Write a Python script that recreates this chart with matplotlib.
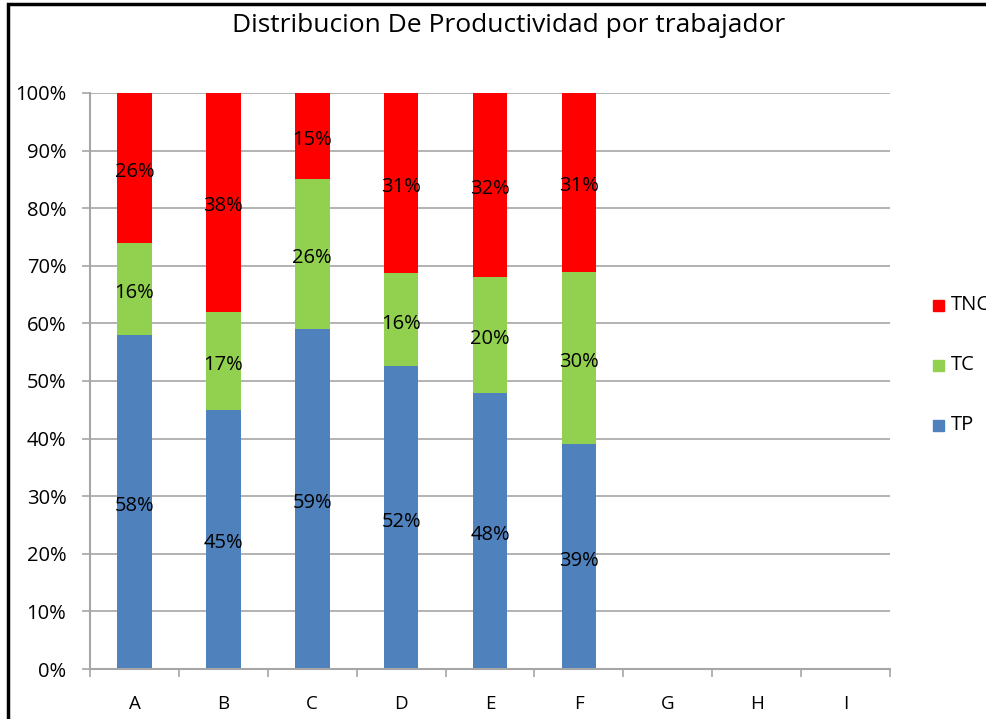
import matplotlib.pyplot as plt
import numpy as np
from matplotlib.patches import Rectangle
from matplotlib.transforms import offset_copy

categorias = ["A", "B", "C", "D", "E", "F", "G", "H", "I"]
tp = [58, 45, 59, 52, 48, 39]
tc = [16, 17, 26, 16, 20, 30]
tnc = [26, 38, 15, 31, 32, 31]
series = ["TP", "TC", "TNC"]
colores = ["#4F81BD", "#92D050", "#FF0000"]

plt.rcParams['font.family'] = ['Open Sans', 'DejaVu Sans']

fig = plt.figure(figsize=(9.87, 7.19), dpi=100)
ax = fig.add_axes([0.0912, 0.0695, 0.8105, 0.8012])

datos = np.array([tp, tc, tnc], dtype=float)
totales = datos.sum(axis=0)
frac = datos / totales
x = np.arange(len(tp))
base = np.zeros(len(tp))
trans_lbl = offset_copy(ax.transData, fig=fig, x=0, y=-4, units="dots")
for i, nombre in enumerate(series):
    ax.bar(x, frac[i], 0.39, bottom=base, color=colores[i], zorder=2)
    for xi, b, h, v in zip(x, base, frac[i], datos[i]):
        ax.text(xi, b + h / 2, "%d%%" % v, ha="center", va="center",
                fontsize=14.5, color="black", zorder=3, transform=trans_lbl)
    base += frac[i]

ax.set_xlim(-0.5, len(categorias) - 0.5)
ax.set_ylim(0, 1)
ax.set_yticks(np.arange(0, 1.01, 0.1))
ax.set_yticklabels(["%d%%" % v for v in range(0, 101, 10)], fontsize=14.5)
ax.yaxis.grid(True, color="#A6A6A6", linewidth=1.2, zorder=0)
ax.set_xticks(np.arange(len(categorias)))
ax.set_xticklabels(categorias, fontsize=13.5)
ax.set_xticks(np.arange(-0.5, len(categorias)), minor=True)
ax.tick_params(axis="x", which="major", length=0, pad=19)
ax.tick_params(axis="x", which="minor", length=6, color="#A6A6A6", width=1.2)
ax.tick_params(axis="y", length=6, color="#A6A6A6", width=1.2, pad=11)
for lado in ["top", "right"]:
    ax.spines[lado].set_visible(False)
for lado in ["left", "bottom"]:
    ax.spines[lado].set_color("#A6A6A6")
    ax.spines[lado].set_linewidth(1.5)

fig.text(0.515, 0.965, "Distribucion De Productividad por trabajador",
         ha="center", va="center", fontsize=19)

# leyenda a la derecha, cortada por el borde
for nombre, color, ypx in zip(["TNC", "TC", "TP"], colores[::-1], [305, 365, 425]):
    fig.patches.append(Rectangle((933 / 987, 1 - (ypx + 6) / 719), 11 / 987, 11 / 719,
                                 transform=fig.transFigure, color=color))
    fig.text(951 / 987, 1 - ypx / 719, nombre, ha="left", va="center", fontsize=14.5)

# borde del grafico
fig.patches.append(Rectangle((8 / 987, -0.05), 1.1, 1 - 4 / 719 + 0.05,
                             transform=fig.transFigure, fill=False,
                             edgecolor="black", linewidth=2.5))

fig.savefig("out.png", dpi=100)
